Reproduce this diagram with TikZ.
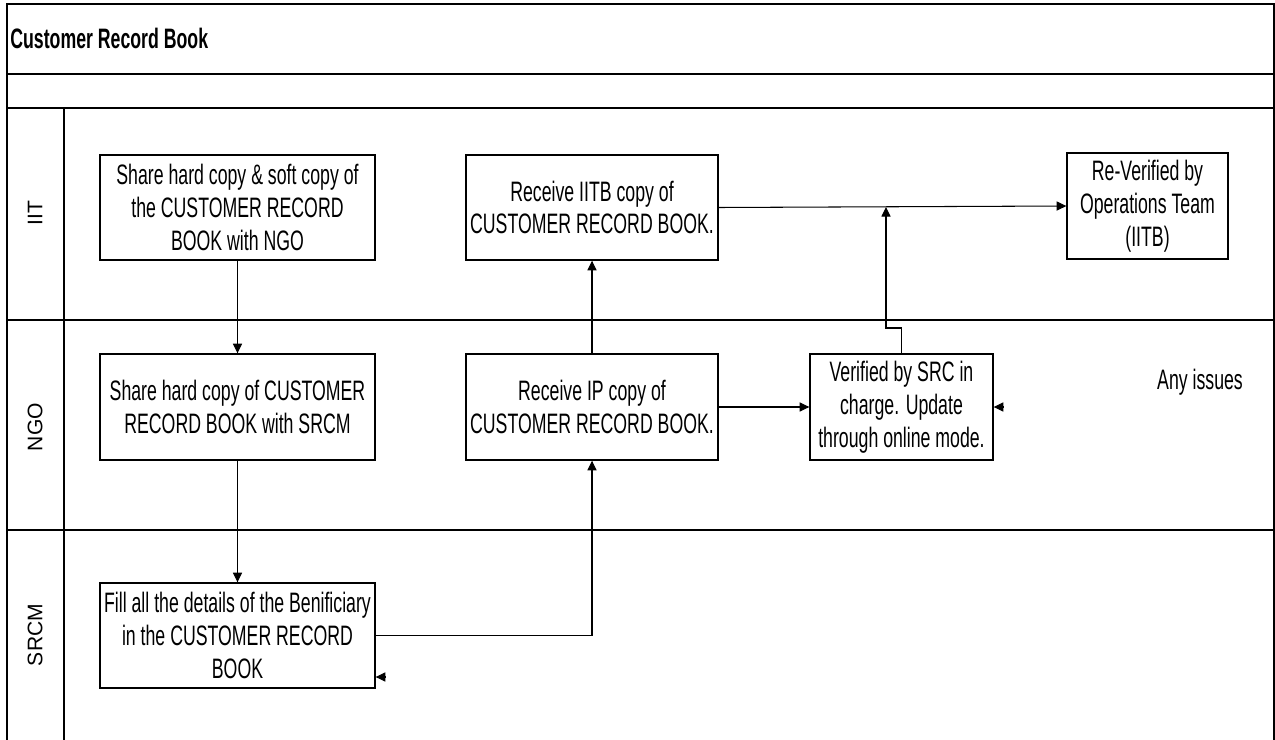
\documentclass[tikz,border=0pt]{standalone}
\usepackage{fontspec}
\setmainfont{Liberation Sans}
\newfontfamily\narrowfont[FakeStretch=0.63]{Liberation Sans}
\usepackage{tikz}
\usetikzlibrary{calc,arrows.meta}
\begin{document}
\begin{tikzpicture}[x=0.02cm,y=-0.02cm]
\tikzstyle{lane}=[line width=1.1pt,black]
\tikzstyle{task}=[draw,line width=0.8pt,align=center,inner sep=0pt,font=\narrowfont\fontsize{16}{18.7}\selectfont]
\tikzstyle{flow}=[line width=0.6pt,-{Triangle[length=5.5pt,width=5.2pt]}]
\tikzstyle{who}=[rotate=90,font=\fontsize{12}{14}\selectfont]
\useasboundingbox (0,0) rectangle (1275,740);

% pool and lanes
\draw[lane] (7,740) -- (7,4) -- (1274,4) -- (1274,740);
\draw[lane] (7,74) -- (1274,74);
\draw[lane] (7,108) -- (1274,108);
\draw[lane] (7,320) -- (1274,320);
\draw[lane] (7,530) -- (1274,530);
\draw[lane] (64,108) -- (64,740);
\node(title)[anchor=west,inner sep=0pt,font=\narrowfont\bfseries\fontsize{16}{18.7}\selectfont] at (10,38) {Customer Record Book};
\node(iit)[who] at (35,213) {IIT};
\node(ngo)[who] at (35,427) {NGO};
\node(srcm)[who] at (35,635) {SRCM};

% IIT lane
\node(share)[task,minimum width=5.5cm,minimum height=2.1cm] at (237.5,207.5) {Share hard copy \& soft copy of\\the CUSTOMER RECORD\\BOOK with NGO};
\node(recitb)[task,minimum width=5.04cm,minimum height=2.1cm] at (592,207.5) {Receive IITB copy of\\CUSTOMER RECORD BOOK.};
\node(reverify)[task,minimum width=3.22cm,minimum height=2.12cm] at (1147.5,206) {Re-Verified by\\Operations Team\\(IITB)};

% NGO lane
\node(sharesrcm)[task,minimum width=5.5cm,minimum height=2.12cm] at (237.5,407) {Share hard copy of CUSTOMER\\RECORD BOOK with SRCM};
\node(recip)[task,minimum width=5.04cm,minimum height=2.12cm] at (592,407) {Receive IP copy of\\CUSTOMER RECORD BOOK.};
\node(verify)[task,minimum width=3.66cm,minimum height=2.12cm] at (901.5,407) {Verified by SRC in\\charge. Update\\through online mode.};
\node(issues)[font=\narrowfont\fontsize{16}{18.7}\selectfont] at (1200,382) {Any issues};

% SRCM lane
\node(fill)[task,minimum width=5.5cm,minimum height=2.1cm] at (237.5,635.5) {Fill all the details of the Benificiary\\in the CUSTOMER RECORD\\BOOK};

% connectors
\draw[flow] (share) -- (sharesrcm);
\draw[flow] (sharesrcm) -- (fill);
\draw[flow] (fill.east) -| (recip.south);
\draw[flow] (recip) -- (recitb);
\draw[flow] (recip) -- (verify);
\draw[flow] (recitb.east) -- (reverify.west);
\coordinate (bend) at (886,328);
\coordinate (join) at (886,207);
\draw[flow] (verify.north) |- (bend) -- (join);

% loose arrow tips
\coordinate (iss1) at ($(verify.east)+(10,0)$);
\draw[flow] (iss1) -- (verify.east);
\coordinate (iss2) at (385,677);
\draw[flow] (iss2) -- (fill.east |- iss2);

\end{tikzpicture}
\end{document}
